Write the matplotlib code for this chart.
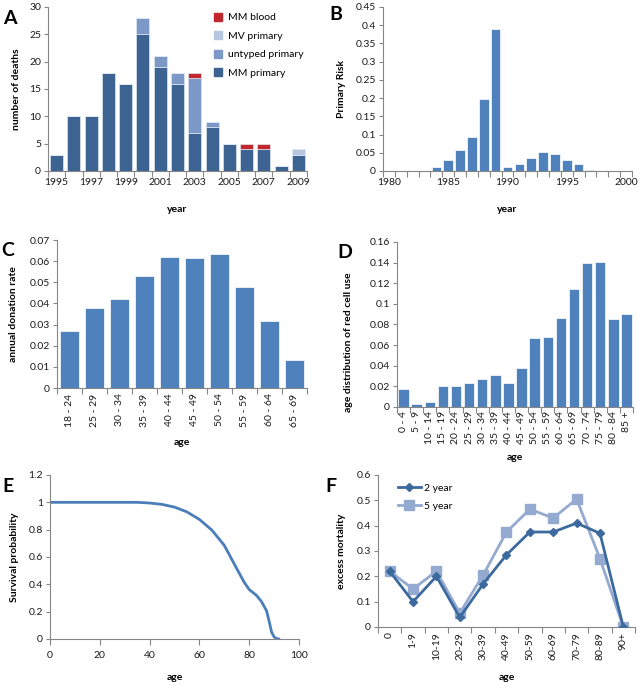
import matplotlib
matplotlib.use("Agg")
import matplotlib.pyplot as plt
import numpy as np
from matplotlib.patches import Patch
from matplotlib.lines import Line2D
from matplotlib.ticker import FuncFormatter

plt.rcParams['font.family'] = ['Lato', 'DejaVu Sans']
plt.rcParams['font.size'] = 7.5

# ---------------- data ----------------
# Panel A
years_a = [1995, 1996, 1997, 1998, 1999, 2000, 2001, 2002, 2003, 2004, 2005, 2006, 2007, 2008, 2009]
mm_primary = [3, 10, 10, 18, 16, 25, 19, 16, 7, 8, 5, 4, 4, 1, 3]
untyped_primary = [0, 0, 0, 0, 0, 3, 2, 2, 10, 1, 0, 0, 0, 0, 0]
mv_primary = [0, 0, 0, 0, 0, 0, 0, 0, 0, 0, 0, 0, 0, 0, 1]
mm_blood = [0, 0, 0, 0, 0, 0, 0, 0, 1, 0, 0, 1, 1, 0, 0]

# Panel B
years_b = list(range(1980, 2001))
primary_risk = [0, 0, 0, 0, 0.01, 0.031, 0.057, 0.092, 0.198, 0.39, 0.012, 0.02, 0.037,
                0.053, 0.047, 0.031, 0.02, 0.003, 0.001, 0, 0]

# Panel C
ages_c = ['18 - 24', '25 - 29', '30 - 34', '35 - 39', '40 - 44', '45 - 49', '50 - 54',
          '55 - 59', '60 - 64', '65 - 69']
donation_rate = [0.027, 0.0377, 0.0422, 0.0532, 0.0618, 0.0613, 0.0634, 0.0479, 0.0318, 0.0132]

# Panel D
ages_d = ['0 - 4', '5 - 9', '10 - 14', '15 - 19', '20 - 24', '25 - 29', '30 - 34', '35 - 39',
          '40 - 44', '45 - 49', '50 - 54', '55 - 59', '60 - 64', '65 - 69', '70 - 74',
          '75 - 79', '80 - 84', '85 +']
red_cell_use = [0.0175, 0.0025, 0.0045, 0.020, 0.020, 0.023, 0.027, 0.031, 0.023, 0.038,
                0.067, 0.068, 0.086, 0.114, 0.140, 0.141, 0.085, 0.090]

# Panel E
ages_e = [0, 10, 20, 30, 35, 40, 45, 50, 55, 60, 65, 70, 75, 78, 80, 83, 85, 87, 88, 89, 90, 91, 92]
survival = [1, 1, 1, 1, 1, 0.995, 0.985, 0.965, 0.93, 0.875, 0.797, 0.685, 0.515, 0.415,
            0.362, 0.318, 0.272, 0.205, 0.13, 0.05, 0.015, 0.003, 0]

# Panel F
ages_f = ['0', '1-9', '10-19', '20-29', '30-39', '40-49', '50-59', '60-69', '70-79', '80-89', '90+']
excess_2yr = [0.22, 0.10, 0.20, 0.038, 0.17, 0.285, 0.375, 0.375, 0.41, 0.37, 0.0]
excess_5yr = [0.22, 0.15, 0.22, 0.055, 0.205, 0.375, 0.465, 0.43, 0.505, 0.27, 0.0]

# ---------------- style ----------------
W, H = 639, 686
fig = plt.figure(figsize=(W / 100, H / 100), dpi=100)

AXC = '#868686'
TXT = '#1a1a1a'
BAR = '#4F81BD'


def px_axes(left, right, top, bottom):
    return fig.add_axes([left / W, (H - bottom) / H, (right - left) / W, (bottom - top) / H])


def style(ax):
    for s in ['top', 'right']:
        ax.spines[s].set_visible(False)
    for s in ['left', 'bottom']:
        ax.spines[s].set_color(AXC)
        ax.spines[s].set_linewidth(0.8)
    ax.tick_params(axis='both', which='both', color=AXC, labelcolor=TXT, labelsize=7.5,
                   direction='out', width=0.8)
    ax.tick_params(axis='y', length=3, pad=2)
    ax.yaxis.set_major_formatter(FuncFormatter(lambda v, p: f"{v:g}"))


def cat_ticks(ax, n, label_pos=None, labels=None, rot=0):
    ax.set_xlim(-0.5, n - 0.5)
    ax.set_xticks(np.arange(-0.5, n, 1.0), minor=True)
    ax.tick_params(axis='x', which='minor', length=4)
    ax.tick_params(axis='x', which='major', length=0, pad=5)
    if label_pos is not None:
        ax.set_xticks(label_pos)
        ax.set_xticklabels(labels, rotation=rot)


# ---------------- Panel A ----------------
axA = px_axes(48, 307, 7, 171)
style(axA)
xa = np.arange(len(years_a))
bw = 0.75
c_mm, c_unt, c_mv, c_bl = '#3C6391', '#7C98C6', '#B7C6E1', '#C0282D'
b0 = np.array(mm_primary, float)
axA.bar(xa, mm_primary, bw, color=c_mm, edgecolor='#dfe6f0', linewidth=0.5)
axA.bar(xa, untyped_primary, bw, bottom=b0, color=c_unt, edgecolor='#dfe6f0', linewidth=0.5)
b1 = b0 + np.array(untyped_primary)
axA.bar(xa, mv_primary, bw, bottom=b1, color=c_mv, edgecolor='#dfe6f0', linewidth=0.5)
b2 = b1 + np.array(mv_primary)
axA.bar(xa, mm_blood, bw, bottom=b2, color=c_bl, edgecolor='#dfe6f0', linewidth=0.5)
axA.set_ylim(0, 30)
axA.set_yticks(np.arange(0, 31, 5))
cat_ticks(axA, len(years_a), xa[::2], [str(y) for y in years_a[::2]])
axA.set_xlabel('year', fontweight='bold')
axA.set_ylabel('number of deaths', fontweight='bold')
axA.xaxis.set_label_coords(0.5, -0.21)
axA.yaxis.set_label_coords(-0.105, 0.5)
handles = [Patch(color=c_bl, label='MM blood'), Patch(color=c_mv, label='MV primary'),
           Patch(color=c_unt, label='untyped primary'), Patch(color=c_mm, label='MM primary')]
axA.legend(handles=handles, loc='upper left', bbox_to_anchor=(0.625, 0.99), frameon=False,
           handlelength=0.8, handleheight=0.8, handletextpad=0.5, labelspacing=0.85,
           fontsize=7.5, borderaxespad=0)

# ---------------- Panel B ----------------
axB = px_axes(383, 632, 7, 171)
style(axB)
xb = np.arange(len(years_b))
axB.bar(xb, primary_risk, 0.8, color=BAR, edgecolor='white', linewidth=0.5)
axB.set_ylim(0, 0.45)
axB.set_yticks(np.linspace(0, 0.45, 10))
cat_ticks(axB, len(years_b), xb[::5], [str(y) for y in years_b[::5]])
axB.set_xlabel('year', fontweight='bold')
axB.set_ylabel('Primary Risk', fontweight='bold')
axB.xaxis.set_label_coords(0.5, -0.21)
axB.yaxis.set_label_coords(-0.15, 0.5)

# ---------------- Panel C ----------------
axC = px_axes(57, 307, 240, 388)
style(axC)
xc = np.arange(len(ages_c))
axC.bar(xc, donation_rate, 0.77, color=BAR, edgecolor='white', linewidth=0.5)
axC.set_ylim(0, 0.07)
axC.set_yticks(np.linspace(0, 0.07, 8))
cat_ticks(axC, len(ages_c), xc, ages_c, rot=90)
axC.tick_params(axis='x', which='major', pad=4)
axC.set_xlabel('age', fontweight='bold')
axC.set_ylabel('annual donation rate', fontweight='bold')
axC.xaxis.set_label_coords(0.5, -0.34)
axC.yaxis.set_label_coords(-0.155, 0.5)

# ---------------- Panel D ----------------
axD = px_axes(397, 633, 242, 407)
style(axD)
xd = np.arange(len(ages_d))
axD.bar(xd, red_cell_use, 0.8, color=BAR, edgecolor='white', linewidth=0.5)
axD.set_ylim(0, 0.16)
axD.set_yticks(np.linspace(0, 0.16, 9))
cat_ticks(axD, len(ages_d), xd, ages_d, rot=90)
axD.tick_params(axis='x', which='major', pad=3)
axD.set_xlabel('age', fontweight='bold')
axD.set_ylabel('age distribution of red cell use', fontweight='bold')
axD.xaxis.set_label_coords(0.5, -0.28)
axD.yaxis.set_label_coords(-0.185, 0.39)

# ---------------- Panel E ----------------
axE = px_axes(50, 299, 475, 639)
style(axE)
axE.plot(ages_e, survival, color='#4A7EBB', lw=2, solid_capstyle='round', solid_joinstyle='round')
axE.set_xlim(0, 100)
axE.set_ylim(0, 1.2)
axE.set_xticks(np.arange(0, 101, 20))
axE.set_yticks(np.linspace(0, 1.2, 7))
axE.tick_params(axis='x', length=4, pad=5)
axE.set_xlabel('age', fontweight='bold')
axE.set_ylabel('Survival probability', fontweight='bold')
axE.xaxis.set_label_coords(0.5, -0.21)
axE.yaxis.set_label_coords(-0.125, 0.5)

# ---------------- Panel F ----------------
axF = px_axes(378, 635, 475, 627)
style(axF)
xf = np.arange(len(ages_f))
c2, c5 = '#3D6A9E', '#95AAD0'
axF.plot(xf, excess_5yr, color=c5, lw=2, marker='s', ms=7, label='5 year', zorder=2)
axF.plot(xf, excess_2yr, color=c2, lw=2, marker='D', ms=4.5, label='2 year', zorder=3)
axF.set_ylim(0, 0.6)
axF.set_yticks(np.linspace(0, 0.6, 7))
cat_ticks(axF, len(ages_f), xf, ages_f, rot=90)
axF.tick_params(axis='x', which='major', pad=4)
axF.set_xlabel('age', fontweight='bold')
axF.set_ylabel('excess mortality', fontweight='bold')
axF.xaxis.set_label_coords(0.5, -0.30)
axF.yaxis.set_label_coords(-0.125, 0.5)
lh = [Line2D([], [], color=c2, lw=2, marker='D', ms=4.5, label='2 year'),
      Line2D([], [], color=c5, lw=2, marker='s', ms=7, label='5 year')]
axF.legend(handles=lh, loc='upper left', bbox_to_anchor=(0.06, 0.97), frameon=False,
           handlelength=2.2, handletextpad=0.3, labelspacing=0.8, fontsize=7.5, borderaxespad=0)

# ---------------- panel letters ----------------
for letter, x, y in [('A', 10, 18), ('B', 336, 15), ('C', 8, 251), ('D', 345, 253),
                     ('E', 8, 486), ('F', 331, 486)]:
    fig.text(x / W, 1 - y / H, letter, fontsize=14, fontweight='bold', ha='center', va='center',
             color='black')

fig.savefig('out.png', dpi=100)
